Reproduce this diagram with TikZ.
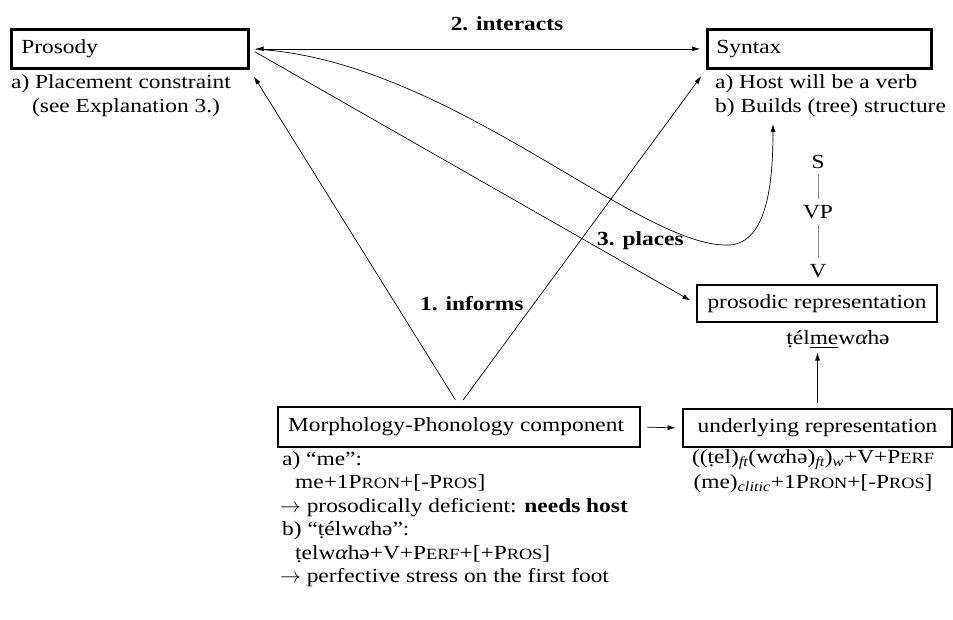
\documentclass[tikz,border=0pt]{standalone}
\usepackage{amsmath}
\usepackage{fontspec}
\setmainfont[FakeStretch=1.17]{Liberation Serif}
\usetikzlibrary{arrows.meta,calc}
\newcommand{\fsc}[1]{{\fontsize{15.6}{15.6}\selectfont #1}}
\newcommand{\subx}[1]{$_{\textit{#1}}$}
\newcommand{\alp}{{\itshape α}}
\begin{document}
\begin{tikzpicture}[x=1pt,y=-1pt,
  every node/.append style={font=\fontsize{20}{24}\selectfont},
  box/.style={draw, line width=2.7pt, inner ysep=0pt, minimum height=39pt},
  txt/.style={inner sep=0pt, anchor=base west},
  lbl/.style={inner sep=0pt, anchor=base west, font=\fontsize{20}{24}\selectfont\bfseries},
  conn/.style={line width=0.7pt, -{Latex[length=8pt,width=5pt]}},
  tree/.style={inner xsep=0pt, inner ysep=6pt, anchor=base},
  treeline/.style={draw=black!45, line width=1pt}
]
\useasboundingbox (0,0) rectangle (953,619);

% boxes
\node[box, anchor=north west, inner xsep=10pt] (prosody) at (10,28) {\makebox[217pt][l]{Prosody}};
\node[box, anchor=north west, inner xsep=9pt] (syntax) at (706,28) {\makebox[206pt][l]{Syntax}};
\node[box, minimum width=240pt, minimum height=37pt] (prosrep) at (817,303.5) {prosodic representation};
\node[box, minimum height=40pt, inner xsep=10pt] (morph) at (459,427) {\makebox[342pt][l]{Morphology-Phonology component}};
\node[box, minimum width=269pt, minimum height=38pt] (under) at (817.5,428) {underlying representation};

% texts under Prosody
\node[txt] (pa) at (11,88) {a) Placement constraint};
\node[txt] (pb) at (32,112) {(see Explanation 3.)};
% texts under Syntax
\node[txt] (sa) at (715,88) {a) Host will be a verb};
\node[txt] (sb) at (715,112) {b) Builds (tree) structure};

% tree
\node[tree] (S) at (818,168) {S};
\node[tree] (VP) at (818,218) {VP};
\node[tree] (V) at (818,277) {V};
\draw[treeline] (S) -- (VP);
\draw[treeline] (VP) -- (V);

% prosodic representation form
\node[inner sep=0pt, anchor=base] (tel) at (838,344) {\d{t}él\underline{me}w\alp hə};

% underlying lines
\node[inner sep=0pt, anchor=base] (ua) at (813,463) {((\d{t}el)\subx{ft}(w\alp hə)\subx{ft})\subx{w}+V+P\fsc{ERF}};
\node[inner sep=0pt, anchor=base] (ub) at (813,488) {(me)\subx{clitic}+1P\fsc{RON}+[-P\fsc{ROS}]};

% morphology lines
\node[txt] (m1) at (282,465) {a) “me”:};
\node[txt] (m2) at (295,488.5) {me+1P\fsc{RON}+[-P\fsc{ROS}]};
\node[txt] (m3) at (280,512) {$\rightarrow$ prosodically deficient: \textbf{needs host}};
\node[txt] (m4) at (282,535.5) {b) “\d{t}élw\alp hə”:};
\node[txt] (m5) at (295,559) {\d{t}elw\alp hə+V+P\fsc{ERF}+[+P\fsc{ROS}]};
\node[txt] (m6) at (280,582.5) {$\rightarrow$ perfective stress on the first foot};

% labels
\node[inner sep=0pt, anchor=base, font=\fontsize{20}{24}\selectfont\bfseries] (l2) at (507,30) {2. interacts};
\node[lbl] (l3) at (597,245) {3. places};
\node[lbl] (l1) at (420,310) {1. informs};

% connectors
\coordinate (cend) at (773,124);
\draw[conn, {Latex[length=8pt,width=5pt]}-{Latex[length=8pt,width=5pt]}, shorten <=6pt, shorten >=6pt] (prosody.east) -- (syntax.west);
\draw[conn, shorten <=6pt] (prosody.east) .. controls (450,60) and (640,250) .. (730,245)
   .. controls (765,242) and (773,190) .. (cend);
\draw[conn, shorten <=6pt, shorten >=6pt] (prosody.east) -- (prosrep.west);
\draw[conn, shorten <=7pt, shorten >=8pt] (morph.north) -- (prosody.south east);
\draw[conn, shorten <=7pt, shorten >=8pt] (morph.north) -- (syntax.south west);
\draw[conn, shorten <=6pt, shorten >=6pt] (morph.east) -- (under.west);
\draw[conn, shorten <=5pt, shorten >=4pt] (under.north) -- (under.north |- tel.south);
\end{tikzpicture}
\end{document}
